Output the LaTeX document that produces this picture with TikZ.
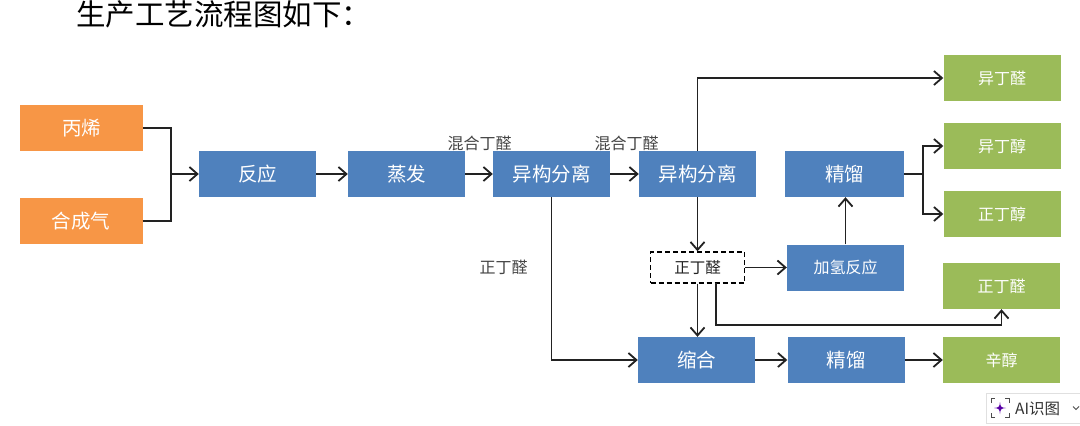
\documentclass[tikz,border=0pt]{standalone}
\usepackage{fontspec}
\setmainfont{Noto Sans CJK SC}
\usetikzlibrary{arrows.meta}
\definecolor{procblue}{HTML}{4F81BD}
\definecolor{feedorange}{HTML}{F79646}
\definecolor{prodgreen}{HTML}{9BBB59}
\definecolor{linedark}{HTML}{222222}
\definecolor{labelgray}{HTML}{444444}
\tikzset{
  basebox/.style={inner sep=0pt,text=white,minimum height=46pt,font=\fontsize{19.5}{20}\selectfont},
  feedbox/.style={basebox,fill=feedorange,minimum width=123pt},
  procbox/.style={basebox,fill=procblue,minimum width=117pt},
  prodbox/.style={basebox,fill=prodgreen,minimum width=117pt,font=\fontsize{16}{16}\selectfont},
  dashbox/.style={draw=black,line width=1.4pt,dash pattern=on 5pt off 3pt,fill=white,inner sep=0pt,minimum width=94pt,minimum height=31pt,text=linedark,font=\fontsize{15.5}{16}\selectfont},
  sidelabel/.style={inner sep=0pt,text=labelgray,font=\fontsize{16}{16}\selectfont},
  conn/.style={draw=linedark,line width=1.8pt},
  arr/.style={conn,-{Straight Barb[length=8pt,width=14pt,line width=1.8pt]}}
}
\begin{document}
\begin{tikzpicture}[x=1pt,y=-1pt]
\useasboundingbox (0,0) rectangle (1080,426);
\fill[white] (0,0) rectangle (1080,426);
\node[inner sep=0pt,text=black,anchor=north west,font=\fontsize{29.5}{30}\selectfont] (title) at (76,0.5) {生产工艺流程图如下：};

\node[feedbox] (bingxi) at (81.5,128) {丙烯};
\node[feedbox] (hechengqi) at (81,221) {合成气};
\node[procbox] (fanying) at (257.5,174) {反应};
\node[procbox] (zhengfa) at (406.5,174) {蒸发};
\node[procbox] (yigou1) at (551.5,174) {异构分离};
\node[procbox] (yigou2) at (697.5,174) {异构分离};
\node[procbox,minimum width=119pt] (jingliu1) at (844.5,174) {精馏};
\node[procbox,minimum width=117pt,font=\fontsize{16}{16}\selectfont] (jiaqing) at (845.5,267.5) {加氢反应};
\node[dashbox] (zhengdingquan) at (697.5,267.5) {正丁醛};
\node[procbox] (suohe) at (696.5,360) {缩合};
\node[procbox] (jingliu2) at (846,360) {精馏};

\node[prodbox] (p1) at (1002,78) {异丁醛};
\node[prodbox] (p2) at (1002,146) {异丁醇};
\node[prodbox] (p3) at (1002,214) {正丁醇};
\node[prodbox] (p4) at (1001.5,286) {正丁醛};
\node[prodbox] (p5) at (1001.5,360) {辛醇};

\node[sidelabel] (lab1) at (479.5,143) {混合丁醛};
\node[sidelabel] (lab2) at (626.5,143) {混合丁醛};
\node[sidelabel] (lab3) at (503.5,267) {正丁醛};

\coordinate (merge) at (171,174);
\draw[conn] (bingxi.east) -| (merge);
\draw[conn] (hechengqi.east) -| (merge);
\draw[arr] (merge) -- (fanying.west);
\draw[arr] (fanying.east) -- (zhengfa.west);
\draw[arr] (zhengfa.east) -- (yigou1.west);
\draw[arr] (yigou1.east) -- (yigou2.west);
\draw[arr] (yigou2.north) |- (p1.west);
\draw[arr] (yigou1.south) |- (suohe.west);
\draw[arr] (yigou2.south) -- (zhengdingquan.north);
\draw[arr] (zhengdingquan.south) -- (zhengdingquan.south |- suohe.north);
\draw[arr] (zhengdingquan.east) -- (jiaqing.west);
\draw[arr] (jiaqing.north) -- (jiaqing.north |- jingliu1.south);
\coordinate (split) at (923,174);
\draw[conn] (jingliu1.east) -- (split);
\draw[arr] (split) |- (p2.west);
\draw[arr] (split) |- (p3.west);
\coordinate (tapstart) at (716,283);
\coordinate (tapcorner) at (1001.5,325);
\draw[conn] (tapstart) |- (tapcorner);
\draw[arr] (tapcorner) -- (p4.south);
\draw[arr] (suohe.east) -- (jingliu2.west);
\draw[arr] (jingliu2.east) -- (p5.west);

% on-screen badge
\draw[draw=black!12,fill=white] (1080,393) -- (986,393) -- (986,423) -- (1080,423);
\node[inner sep=0pt,anchor=west,text=black!80,font=\fontsize{15.5}{16}\selectfont] (badge) at (1015,408.5) {AI识图};
\draw[black!70,line width=0.9pt] (991,403) |- (995,398.5) (1005,398.5) -| (1009,403) (1009,413) |- (1005,417.5) (995,417.5) -| (991,413);
\fill[violet!70!blue] (1000,402) .. controls (1000.5,407) and (1001,407.5) .. (1006,408) .. controls (1001,408.5) and (1000.5,409) .. (1000,414) .. controls (999.5,409) and (999,408.5) .. (994,408) .. controls (999,407.5) and (999.5,407) .. (1000,402);
\draw[black!70,line width=1pt] (1073,406.5) -- (1076,409.5) -- (1079,406.5);
\end{tikzpicture}
\end{document}
